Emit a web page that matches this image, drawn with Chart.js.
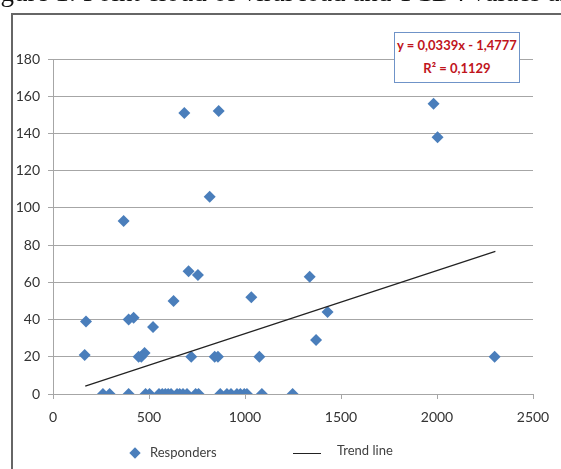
<!DOCTYPE html>
<html>
<head>
<meta charset="utf-8">
<script src="https://cdn.jsdelivr.net/npm/chart.js@4.4.1/dist/chart.umd.min.js"></script>
<style>
  html, body { margin: 0; padding: 0; background: #fff; overflow: hidden; }
  #wrap { position: relative; width: 561px; height: 469px; }
  #chart { position: absolute; left: 0; top: 0; }
  .title {
    position: absolute; left: -22px; top: -23px; white-space: nowrap;
    font-family: "Liberation Serif", "Times New Roman", serif; font-size: 27px; color: #111;
  }
  .frame {
    position: absolute; left: 11px; top: 13px; width: 600px; height: 500px;
    border-left: 2px solid #666; border-top: 2px solid #666;
  }
  .eqbox {
    position: absolute; left: 394px; top: 32px; width: 124px; height: 48px;
    border: 1px solid #6F93C8; background: #fff; white-space: nowrap;
    font-family: Lato, sans-serif; font-weight: bold; font-size: 13px; color: #C0141C;
    text-align: center; line-height: 23px; padding-top: 1px;
  }
  .legend { position: absolute; top: 444px; left: 0; font-family: Lato, sans-serif; font-size: 13px; color: #404040; }
  .legend span { position: absolute; white-space: nowrap; }
  .diamond { position: absolute; width: 8px; height: 8px; background: #4A7EBB; transform: rotate(45deg); }
  .lline { position: absolute; height: 1px; background: #222; }
</style>
</head>
<body>
<div id="wrap">
  <canvas id="chart" width="561" height="469"></canvas>
  <div class="title">Figure 1: Point cloud of viral load and TCD4 values and</div>
  <div class="frame"></div>
  <div class="eqbox">y = 0,0339x - 1,4777<br>R² = 0,1129</div>
  <div class="legend">
    <div class="diamond" style="left:131px; top:5px;"></div>
    <span style="left:150px; top:0px;">Responders</span>
    <div class="lline" style="left:293px; width:28px; top:9px;"></div>
    <span style="left:337px; top:-2px;">Trend line</span>
  </div>
</div>
<script>
// Responders: viral load (x) vs TCD4 (y)
const responderX = [260, 295, 394, 482, 503, 552, 569, 585, 600, 615, 646, 660, 677, 698, 743, 758,
  871, 906, 927, 958, 976, 996, 1010, 1088, 1248,
  684, 863, 816, 368, 706, 755, 628, 1033, 172, 394, 420, 521,
  165, 446, 460, 477, 720, 842, 859, 1075, 1982, 2003, 1337, 1430, 1370, 2300];
const responderY = [0, 0, 0, 0, 0, 0, 0, 0, 0, 0, 0, 0, 0, 0, 0, 0,
  0, 0, 0, 0, 0, 0, 0, 0, 0,
  151, 152, 106, 93, 66, 64, 50, 52, 39, 40, 41, 36,
  21, 20, 20, 22, 20, 20, 20, 20, 156, 138, 63, 44, 29, 20];

// trend line end points
const trendX = [168, 2304];
const trendY = [4.2, 76.6];

const xMax = 2500, xStep = 500;
const yMax = 180, yStep = 20;

const gridColor = '#A6A6A6';
const tickFont = { family: 'Lato', size: 14 };

new Chart(document.getElementById('chart'), {
  type: 'scatter',
  data: {
    datasets: [{
      label: 'Responders',
      data: responderX.map((x, i) => ({ x: x, y: responderY[i] })),
      pointStyle: 'rectRot',
      pointRadius: 6,
      pointBackgroundColor: '#4A7EBB',
      pointBorderColor: '#4A7EBB',
      pointBorderWidth: 0,
      order: 2
    }, {
      label: 'Trend line',
      type: 'line',
      data: trendX.map((x, i) => ({ x: x, y: trendY[i] })),
      borderColor: '#222',
      borderWidth: 1.2,
      pointRadius: 0,
      fill: false,
      order: 1
    }]
  },
  options: {
    responsive: false,
    animation: false,
    layout: { padding: { left: 0, right: 28, top: 59, bottom: 45 } },
    plugins: { legend: { display: false }, tooltip: { enabled: false } },
    scales: {
      x: {
        type: 'linear', min: 0, max: xMax,
        ticks: { stepSize: xStep, color: '#333', font: tickFont, padding: 10, maxRotation: 0,
          callback: (v) => String(v) },
        grid: { drawOnChartArea: false, drawTicks: true, tickLength: 5, color: gridColor },
        border: { display: true, color: gridColor },
        afterFit: (s) => { s.height = 30; }
      },
      y: {
        min: 0, max: yMax,
        ticks: { stepSize: yStep, color: '#333', font: tickFont, padding: 8 },
        grid: { color: gridColor, tickLength: 5 },
        border: { display: true, color: gridColor },
        afterFit: (s) => { s.width = 53; }
      }
    }
  }
});
</script>
</body>
</html>
